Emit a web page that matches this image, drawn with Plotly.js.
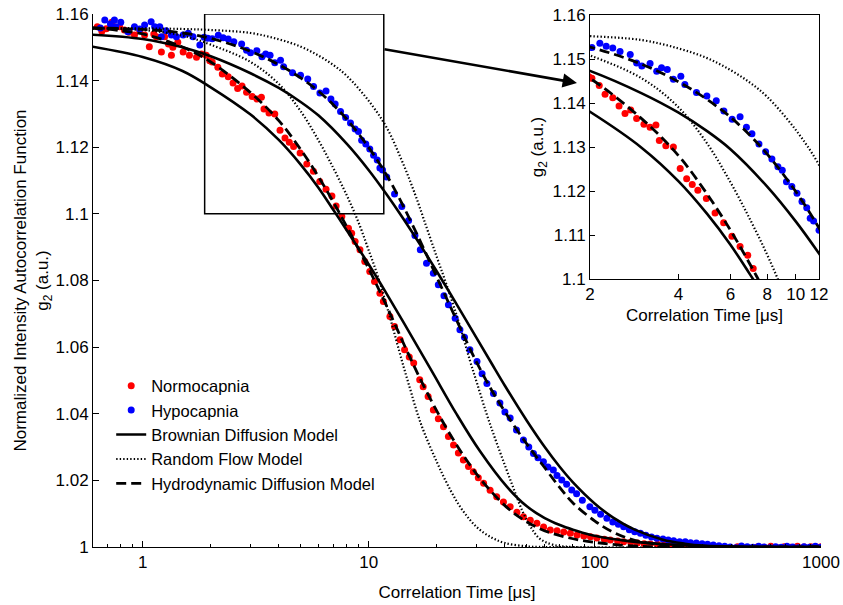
<!DOCTYPE html>
<html>
<head>
<meta charset="utf-8">
<script src="https://cdn.plot.ly/plotly-3.0.1.min.js"></script>
<style>html,body{margin:0;padding:0;background:#fff}#chart{width:843px;height:605px}</style>
</head>
<body>
<div id="chart"></div>
<script>
const normoTau = [0.63,0.66,0.69,0.73,0.76,0.79,0.83,0.87,0.92,0.97,1.02,1.07,1.12,1.15,1.21,1.25,1.30,1.34,1.36,1.43,1.51,1.61,1.73,1.82,1.91,1.98,2.03,2.15,2.25,2.39,2.51,2.63,2.75,2.88,3.05,3.20,3.35,3.44,3.62,3.84,4.05,4.26,4.45,4.65,4.97,5.32,5.69,6.07,6.47,6.87,7.17,7.60,8.13,8.40,8.70,9.14,9.60,10.1,10.6,11.2,11.6,12.4,13.0,13.75,14.4,15.1,15.8,16.8,17.4,18.3,19.3,20.3,21.4,22.5,23.7,24.9,26.2,27.6,29.0,30.5,32.2,34.4,36.8,39.4,42.2,45.2,48.3,51.8,55.4,59.3,63.5,68.0,72.8,77.9,83.4,89.3,95.6,102,110,117,126,134,144,154,165,176,189,202,216,232,248,265,284,304,325,348,373,399,427,457,489,523,560,600,642,687,735,787,842,901,964,1000];
const normoG2 = [1.1562,1.1548,1.1556,1.1575,1.1560,1.1562,1.1552,1.1545,1.1537,1.1550,1.1537,1.1502,1.1540,1.1532,1.1486,1.1532,1.1510,1.1476,1.1500,1.1515,1.1486,1.1476,1.1470,1.1480,1.1476,1.1460,1.1456,1.1440,1.1420,1.1412,1.1393,1.1376,1.1384,1.1365,1.1352,1.1345,1.1350,1.1315,1.1303,1.1300,1.1251,1.1228,1.1215,1.1202,1.1183,1.1150,1.1128,1.1097,1.1074,1.1054,1.1024,1.0992,1.0957,1.0942,1.0917,1.0892,1.0857,1.0827,1.0797,1.0762,1.0737,1.0692,1.0662,1.0622,1.0592,1.0570,1.0552,1.0502,1.0481,1.0452,1.0411,1.0385,1.0361,1.0332,1.0306,1.0282,1.0261,1.0242,1.0226,1.0208,1.0191,1.0170,1.0151,1.0135,1.0121,1.0104,1.0091,1.0080,1.0071,1.0060,1.0051,1.0049,1.0045,1.0041,1.0036,1.0033,1.0031,1.0027,1.0023,1.0021,1.0018,1.0016,1.0014,1.0012,1.0010,1.0009,1.0008,1.0006,1.0004,1.0002,0.9999,1.0001,0.9997,0.9998,1.0000,0.9996,0.9999,0.9997,1.0001,0.9998,0.9996,1.0000,0.9999,1.0002,0.9998,1.0001,0.9999,1.0002,1.0000,1.0001,0.9999,1.0001];

const hypoTau = [0.65,0.68,0.72,0.75,0.76,0.80,0.86,0.92,0.97,1.02,1.09,1.13,1.19,1.21,1.27,1.34,1.41,1.51,1.59,1.67,1.79,1.87,1.94,2.03,2.16,2.27,2.39,2.53,2.74,2.88,3.00,3.20,3.37,3.50,3.66,3.84,4.07,4.20,4.60,4.99,5.37,5.70,6.08,6.47,6.80,7.10,7.50,7.90,8.30,8.70,9.00,9.30,9.70,10.1,10.5,10.9,11.2,11.5,12.0,13.0,14.0,15.0,16.0,16.9,18.0,19.3,20.3,21.5,22.5,24.1,25.3,26.5,28.0,30.1,31.7,33.3,35.6,38.0,40.0,42.2,45.0,48.3,51.0,53.5,56.0,59.2,62.0,65.5,68.0,71.4,75.0,79.0,83.0,88.0,95.0,100,106,113,120,127,134,142,150,159,168,178,188,200,211,223,237,251,265,281,298,315,334,354,375,397,420,445,472,500,530,560,594,630,667,707,750,794,841,891,944,1000];
const hypoG2 = [1.1558,1.1582,1.1570,1.1582,1.1562,1.1575,1.1547,1.1562,1.1555,1.1567,1.1577,1.1562,1.1562,1.1532,1.1550,1.1537,1.1532,1.1537,1.1542,1.1532,1.1507,1.1530,1.1527,1.1526,1.1536,1.1529,1.1525,1.1517,1.1510,1.1491,1.1484,1.1490,1.1472,1.1480,1.1476,1.1454,1.1461,1.1442,1.1424,1.1416,1.1405,1.1382,1.1363,1.1369,1.1345,1.1330,1.1307,1.1289,1.1273,1.1255,1.1247,1.1221,1.1210,1.1195,1.1176,1.1162,1.1138,1.1132,1.1111,1.1060,1.1022,1.0980,1.0935,1.0892,1.0852,1.0822,1.0787,1.0754,1.0727,1.0687,1.0652,1.0630,1.0592,1.0557,1.0520,1.0491,1.0461,1.0432,1.0405,1.0387,1.0351,1.0321,1.0300,1.0281,1.0268,1.0256,1.0240,1.0231,1.0215,1.0201,1.0188,1.0171,1.0160,1.0140,1.0121,1.0110,1.0098,1.0086,1.0075,1.0068,1.0061,1.0052,1.0046,1.0041,1.0035,1.0030,1.0026,1.0024,1.0021,1.0019,1.0016,1.0016,1.0013,1.0012,1.0010,1.0008,1.0006,1.0004,1.0002,1.0000,0.9998,1.0003,1.0001,0.9999,1.0002,1.0000,0.9998,1.0001,0.9999,1.0002,1.0000,0.9998,1.0001,0.9999,1.0002,0.9999];

// ---- Model curves ----
const brownNormTau = [0.6,1,1.5,2,3,4,5,6,7,8,10,12,15,19,24.5,31,40.8,50,60,70,80,95,113,134,160,200,300,1000];
const brownNormG2  = [1.1502,1.1471,1.1429,1.1380,1.1298,1.1222,1.1148,1.1078,1.1010,1.0950,1.0848,1.0760,1.0648,1.0528,1.0398,1.0288,1.0181,1.0122,1.0087,1.0066,1.0052,1.0037,1.0027,1.0020,1.0014,1.0009,1.0003,1.0];
const brownHypoTau = [0.6,1,1.5,2,3,4,5,6,8,10,12,14,17,20,25,30,35,40,50,60,70,80,100,120,150,200,250,300,500,1000];
const brownHypoG2  = [1.1538,1.1525,1.1500,1.1473,1.1422,1.1378,1.1336,1.1295,1.1210,1.1131,1.1058,1.0992,1.0904,1.0827,1.0718,1.0627,1.0550,1.0484,1.0379,1.0300,1.0240,1.0194,1.0130,1.0089,1.0052,1.0022,1.0010,1.0004,1.0,1.0];
const flowNormTau = [0.6,1,1.5,2,3,4,5,6,7,8,9,10,11,12.4,14,15,17,20,23,26,30,35,40,50,60,1000];
const flowNormG2  = [1.1556,1.1552,1.1535,1.1508,1.1456,1.1390,1.1308,1.1220,1.1135,1.1055,1.0975,1.0890,1.0810,1.0690,1.0560,1.0490,1.0370,1.0255,1.0170,1.0110,1.0060,1.0028,1.0012,1.0002,1.0,1.0];
const flowHypoTau = [0.6,1,1.5,2,3,4,5,6,7,8,10,12,14,16,18,20,22,25,28,30,33,36,40,44,48,52,57,65,80,1000];
const flowHypoG2  = [1.1558,1.1557,1.1555,1.1552,1.1543,1.1524,1.1502,1.1475,1.1446,1.1414,1.1339,1.1259,1.1160,1.1060,1.0960,1.0870,1.0790,1.0675,1.0560,1.0495,1.0405,1.0330,1.0245,1.0170,1.0105,1.0060,1.0025,1.0007,1.0,1.0];
const hydroNormTau = [0.6,1,1.5,2,3,4,5,6,7,8,10,12,15,18,22,27,33,43,57,75,100,140,200,1000];
const hydroNormG2  = [1.1558,1.1540,1.1501,1.1456,1.1364,1.1280,1.1193,1.1111,1.1033,1.0961,1.0835,1.0723,1.0578,1.0467,1.0358,1.0262,1.0184,1.0106,1.0055,1.0029,1.0014,1.0004,1.0,1.0];
const hydroHypoTau = [0.6,1,1.5,2,3,4,5,6,7,8,10,12,14,17,20,25,30,35,40,50,60,70,80,100,120,150,200,250,300,1000];
const hydroHypoG2  = [1.1558,1.1554,1.1543,1.1527,1.1488,1.1448,1.1408,1.1368,1.1326,1.1284,1.1199,1.1116,1.1032,1.0914,1.0810,1.0667,1.0554,1.0470,1.0406,1.0309,1.0238,1.0178,1.0132,1.0078,1.0045,1.0020,1.0006,1.0001,1.0,1.0];

// ---- Tick labels ----
const mainXTicks = [1,10,100,1000];
const mainXTickText = ['1','10','100','1000'];
const mainYTicks = [1,1.02,1.04,1.06,1.08,1.1,1.12,1.14,1.16];
const mainYTickText = ['1','1.02','1.04','1.06','1.08','1.1','1.12','1.14','1.16'];
const minorXTicks = [0.7,0.8,0.9,2,3,4,5,6,7,8,9,20,30,40,50,60,70,80,90,200,300,400,500,600,700,800,900];
const insetXTicks = [2,4,6,8,10,12];
const insetXTickText = ['2','4','6','8','10','12'];
const insetYTicks = [1.1,1.11,1.12,1.13,1.14,1.15,1.16];
const insetYTickText = ['1.1','1.11','1.12','1.13','1.14','1.15','1.16'];

const FONT = 'Liberation Sans, Arial, Helvetica, sans-serif';
const solid = {color:'#000', width:2.6, shape:'spline', smoothing:1};
const dotted = {color:'#000', width:2.2, dash:'1.4px,2.1px', shape:'spline', smoothing:1};
const dashed = {color:'#000', width:2.8, dash:'10px,5px', shape:'spline', smoothing:1};

function tracesFor(xa, ya, legend) {
  return [
    {x:normoTau, y:normoG2, type:'scatter', mode:'markers', name:'Normocapnia', marker:{color:'#ff0000', size:7}, xaxis:xa, yaxis:ya, showlegend:legend, cliponaxis:true},
    {x:hypoTau, y:hypoG2, type:'scatter', mode:'markers', name:'Hypocapnia', marker:{color:'#0000ff', size:7}, xaxis:xa, yaxis:ya, showlegend:legend, cliponaxis:true},
    {x:brownNormTau, y:brownNormG2, type:'scatter', mode:'lines', name:'Brownian Diffusion Model', line:solid, xaxis:xa, yaxis:ya, showlegend:legend},
    {x:brownHypoTau, y:brownHypoG2, type:'scatter', mode:'lines', name:'Brownian Diffusion Model', line:solid, xaxis:xa, yaxis:ya, showlegend:false},
    {x:flowNormTau, y:flowNormG2, type:'scatter', mode:'lines', name:'Random Flow Model', line:dotted, xaxis:xa, yaxis:ya, showlegend:legend},
    {x:flowHypoTau, y:flowHypoG2, type:'scatter', mode:'lines', name:'Random Flow Model', line:dotted, xaxis:xa, yaxis:ya, showlegend:false},
    {x:hydroNormTau, y:hydroNormG2, type:'scatter', mode:'lines', name:'Hydrodynamic Diffusion Model', line:dashed, xaxis:xa, yaxis:ya, showlegend:legend},
    {x:hydroHypoTau, y:hydroHypoG2, type:'scatter', mode:'lines', name:'Hydrodynamic Diffusion Model', line:dashed, xaxis:xa, yaxis:ya, showlegend:false}
  ];
}

const data = tracesFor('x','y',true).concat(tracesFor('x2','y2',false));

const axisCommon = {showline:true, linecolor:'#000', linewidth:1, ticks:'inside', tickcolor:'#000', showgrid:false, zeroline:false, tickfont:{family:FONT, size:17, color:'#000'}};

const layout = {
  width:843, height:605,
  margin:{l:93, r:22, t:14, b:58},
  paper_bgcolor:'#fff', plot_bgcolor:'rgba(0,0,0,0)',
  font:{family:FONT, size:17, color:'#000'},
  showlegend:true,
  legend:{x:0.025, y:0.335, xanchor:'left', yanchor:'top', bgcolor:'rgba(0,0,0,0)', font:{family:FONT, size:16.5, color:'#000'}, traceorder:'normal'},
  xaxis:Object.assign({}, axisCommon, {
    type:'log', range:[Math.log10(0.603), 3], domain:[0,1], anchor:'y',
    tickmode:'array', tickvals:mainXTicks, ticktext:mainXTickText, ticklen:6,
    minor:{tickmode:'array', tickvals:minorXTicks, ticks:'inside', ticklen:3, tickcolor:'#000'},
    title:{text:'Correlation Time [\u03bcs]', font:{family:FONT, size:17, color:'#000'}, standoff:14}
  }),
  yaxis:Object.assign({}, axisCommon, {
    range:[1,1.16], domain:[0,1], anchor:'x',
    tickmode:'array', tickvals:mainYTicks, ticktext:mainYTickText, ticklen:6,
    title:{text:'Normalized Intensity Autocorrelation Function<br>g<sub>2</sub> (a.u.)', font:{family:FONT, size:17, color:'#000'}, standoff:2}
  }),
  xaxis2:Object.assign({}, axisCommon, {
    type:'log', range:[Math.log10(2), Math.log10(12)], domain:[0.6827,0.9973], anchor:'y2', mirror:true,
    tickmode:'array', tickvals:insetXTicks, ticktext:insetXTickText, ticklen:5,
    title:{text:'Correlation Time [\u03bcs]', font:{family:FONT, size:17, color:'#000'}, standoff:5}
  }),
  yaxis2:Object.assign({}, axisCommon, {
    range:[1.1,1.16], domain:[0.5028,0.9981], anchor:'x2', mirror:true,
    tickmode:'array', tickvals:insetYTicks, ticktext:insetYTickText, ticklen:5,
    title:{text:'g<sub>2</sub> (a.u.)', font:{family:FONT, size:17, color:'#000'}, standoff:4}
  }),
  shapes:[
    {type:'rect', xref:'x', yref:'y', x0:1.88, x1:11.65, y0:1.1, y1:1.16, line:{color:'#000', width:1.5}, fillcolor:'rgba(0,0,0,0)', layer:'above'}
  ],
  annotations:[
    {xref:'paper', yref:'paper', x:0.6648, y:0.8705, ax:-194, ay:-34, axref:'pixel', ayref:'pixel', text:'', showarrow:true, arrowhead:2, arrowsize:1.1, arrowwidth:2.6, arrowcolor:'#000', standoff:0}
  ]
};

Plotly.newPlot('chart', data, layout, {staticPlot:true, displayModeBar:false});
</script>
</body>
</html>
